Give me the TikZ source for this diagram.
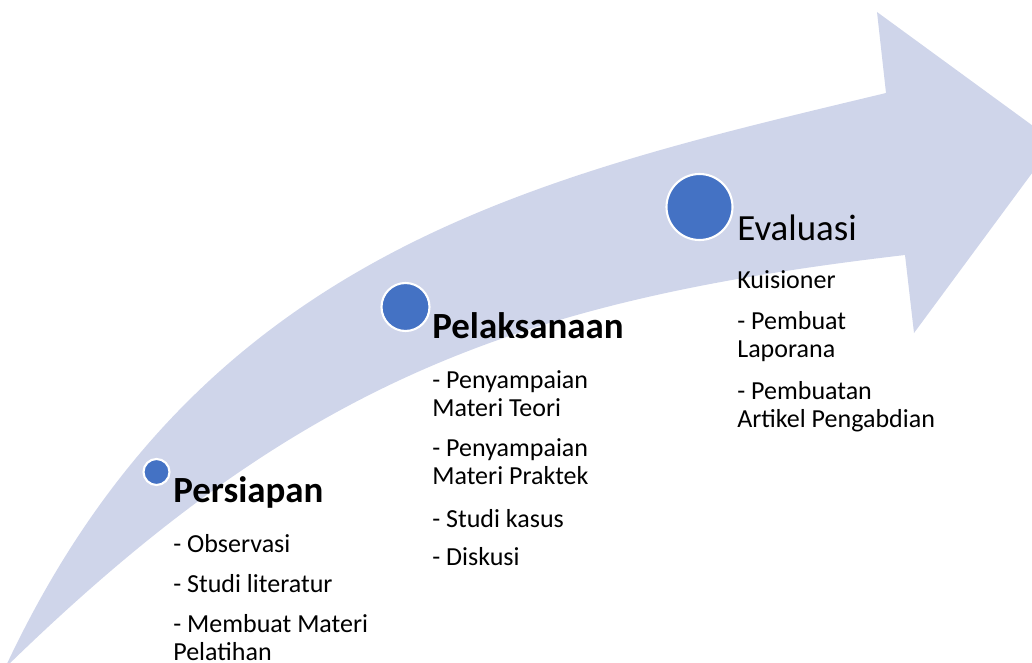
\documentclass[tikz,border=0pt]{standalone}
\usepackage{fontspec}
\setmainfont{Carlito}
\definecolor{bandfill}{HTML}{CFD5EA}
\definecolor{dotblue}{HTML}{4472C4}

\begin{document}
\begin{tikzpicture}[
  dot/.style={circle,fill=dotblue,draw=white,line width=1.2pt,inner sep=0pt},
  head/.style={anchor=base west,inner sep=0pt,font=\fontsize{21}{25}\selectfont},
  item/.style={anchor=base west,inner sep=0pt,align=left,font=\fontsize{14.8}{15.9}\selectfont}]
\clip (0,0) rectangle (20.64,13.24);

% curved band with the arrow head
\fill[bandfill] (0.10,-0.12)
  .. controls (4.00,8.24) and (10.72,9.70) .. (17.72,11.38)
  -- (17.54,13.00) -- (21.10,10.40) -- (18.28,6.58) -- (18.10,8.14)
  .. controls (10.40,7.24) and (6.00,5.64) .. (0.10,-0.12) -- cycle;

% stages (two-line items sit on the baseline of their last line)
\node[dot,minimum size=0.52cm] (persiapan-dot) at (3.13,3.80) {};
\node[dot,minimum size=0.96cm] (pelaksanaan-dot) at (8.11,7.10) {};
\node[dot,minimum size=1.32cm] (evaluasi-dot) at (13.99,9.10) {};

\node[head,font=\fontsize{21}{25}\selectfont\bfseries] (persiapan) at (3.46,3.20) {Persiapan};
\node[item] (observasi) at (3.46,2.20) {- Observasi};
\node[item] (literatur) at (3.46,1.40) {- Studi literatur};
\node[item] (materi) at (3.46,0.04) {- Membuat Materi\\Pelatihan};

\node[head,font=\fontsize{21}{25}\selectfont\bfseries] (pelaksanaan) at (8.64,6.48) {Pelaksanaan};
\node[item] (teori) at (8.64,4.92) {- Penyampaian\\Materi Teori};
\node[item] (praktek) at (8.64,3.56) {- Penyampaian\\Materi Praktek};
\node[item] (kasus) at (8.64,2.70) {- Studi kasus};
\node[item] (diskusi) at (8.64,1.94) {- Diskusi};

\node[head] (evaluasi) at (14.74,8.44) {Evaluasi};
\node[item] (kuisioner) at (14.74,7.48) {Kuisioner};
\node[item] (laporan) at (14.74,6.10) {- Pembuat\\Laporana};
\node[item] (artikel) at (14.74,4.70) {- Pembuatan\\Artikel Pengabdian};
\end{tikzpicture}
\end{document}
